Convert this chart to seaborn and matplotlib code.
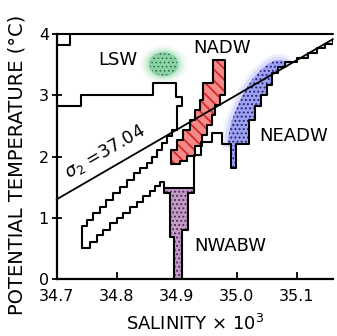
import matplotlib
matplotlib.use("Agg")
import matplotlib.pyplot as plt
from matplotlib.patches import Ellipse
import seaborn as sns

# axis ticks
sal_ticks = [34.7, 34.8, 34.9, 35.0, 35.1]
sal_tick_labels = ["34.7", "34.8", "34.9", "35.0", "35.1"]
temp_ticks = [0, 1, 2, 3, 4]

# sigma2 = 37.04 isopycnal
sigma_sal = [34.70, 35.16]
sigma_temp = [1.30, 3.92]

# top of the envelope and the little box at top left
top_sal = [34.700, 35.160]
top_temp = [4.00, 4.00]
box_sal = [34.700, 34.722, 34.722]
box_temp = [3.83, 3.83, 4.00]

# LSW shelf
shelf_sal = [34.700, 34.740, 34.740, 34.861, 34.861, 34.898, 34.898, 34.908, 34.908, 34.900, 34.900]
shelf_temp = [2.82, 2.82, 3.00, 3.00, 3.20, 3.20, 2.98, 2.98, 2.82, 2.82, 2.43]

# cold diagonal band, upper and lower edges (step corners)
band_top_sal = [34.900, 34.892, 34.883, 34.875, 34.867, 34.858, 34.850, 34.839, 34.828,
                34.817, 34.806, 34.794, 34.783, 34.772, 34.761, 34.750, 34.742, 34.742]
band_top_temp = [2.43, 2.33, 2.22, 2.11, 2.00, 1.89, 1.81, 1.73, 1.62,
                 1.51, 1.40, 1.29, 1.18, 1.07, 0.96, 0.86, 0.75, 0.50]
band_low_sal = [34.742, 34.756, 34.767, 34.778, 34.789, 34.800, 34.811, 34.822,
                34.833, 34.844, 34.856, 34.864, 34.872, 34.878, 34.878]
band_low_temp = [0.50, 0.61, 0.72, 0.80, 0.91, 0.99, 1.07, 1.18,
                 1.26, 1.35, 1.44, 1.52, 1.59, 1.59, 1.49]

# steps between NWABW and NEADW
mid_sal = [34.928, 34.928, 34.940, 34.940, 34.958, 34.958, 34.975, 34.975, 34.985]
mid_temp = [1.49, 2.02, 2.02, 2.24, 2.24, 2.38, 2.38, 2.20, 2.20]

# steps above NEADW up to the top right
upper_sal = [35.081, 35.100, 35.118, 35.133, 35.147, 35.160]
upper_temp = [3.55, 3.62, 3.70, 3.77, 3.84, 3.92]

# water masses
nwabw_sal = [34.878, 34.928, 34.928, 34.919, 34.919, 34.909, 34.909, 34.896,
             34.896, 34.889, 34.889, 34.878, 34.878]
nwabw_temp = [1.49, 1.49, 1.40, 1.40, 0.80, 0.80, 0.00, 0.00,
              0.69, 0.69, 1.40, 1.40, 1.49]

nadw_sal = [34.961, 34.981, 34.981, 34.972, 34.972, 34.964, 34.964, 34.958, 34.958,
            34.950, 34.950, 34.942, 34.942, 34.931, 34.931, 34.917, 34.917, 34.905,
            34.905, 34.890, 34.890, 34.900, 34.900, 34.911, 34.911, 34.922, 34.922,
            34.931, 34.931, 34.939, 34.939, 34.944, 34.944, 34.961, 34.961]
nadw_temp = [3.58, 3.58, 3.00, 3.00, 2.84, 2.84, 2.68, 2.68, 2.52,
             2.52, 2.35, 2.35, 2.18, 2.18, 2.01, 2.01, 1.93, 1.93,
             1.88, 1.88, 2.10, 2.10, 2.27, 2.27, 2.43, 2.43, 2.60,
             2.60, 2.76, 2.76, 2.92, 2.92, 3.20, 3.20, 3.58]

neadw_sal = [34.985, 34.991, 34.991, 34.999, 34.999, 35.020, 35.020, 35.030, 35.030,
             35.040, 35.040, 35.050, 35.050, 35.059, 35.059, 35.068, 35.068, 35.081,
             35.081, 35.074, 35.062, 35.050, 35.039, 35.027, 35.017, 35.009, 35.003,
             34.997, 34.992, 34.988, 34.986, 34.985]
neadw_temp = [2.20, 2.20, 1.81, 1.81, 2.20, 2.20, 2.60, 2.60, 2.82,
              2.82, 3.01, 3.01, 3.17, 3.17, 3.36, 3.36, 3.47, 3.47,
              3.55, 3.58, 3.57, 3.50, 3.41, 3.28, 3.14, 3.00, 2.87,
              2.73, 2.60, 2.45, 2.33, 2.20]
neadw_edge = 19  # only the stepped side has a black outline, the rest is soft

lsw_center = (34.878, 3.51)

labels = {"LSW": (34.802, 3.58), "NADW": (34.975, 3.77),
          "NEADW": (35.094, 2.33), "NWABW": (34.989, 0.53)}

sns.set_theme(style="ticks")
plt.rcParams["font.family"] = ["DejaVu Sans"]
plt.rcParams["text.color"] = "black"
plt.rcParams["axes.labelcolor"] = "black"
plt.rcParams["hatch.linewidth"] = 0.9

fig = plt.figure(figsize=(3.37, 3.36), dpi=100)
ax = fig.add_axes([0.168, 0.170, 0.820, 0.728])

lw = 1.5


def outline(x, y, steps=False, **kw):
    if steps:
        kw["drawstyle"] = "steps-post"
    sns.lineplot(x=x, y=y, sort=False, estimator=None, color="black",
                 linewidth=lw, ax=ax, zorder=4, **kw)


def region(x, y, face, hatch, hatch_color, hatch_lw):
    ax.fill(x, y, facecolor=face, edgecolor="none", zorder=2)
    with plt.rc_context({"hatch.linewidth": hatch_lw}):
        ax.fill(x, y, facecolor="none", edgecolor=hatch_color, hatch=hatch,
                linewidth=0, zorder=2.5)


# LSW blob: soft green halo with a stippled core
for scale, alpha in [(1.55, 0.12), (1.35, 0.2), (1.18, 0.35)]:
    ax.add_patch(Ellipse(lsw_center, 0.05 * scale, 0.40 * scale,
                         facecolor="#9ddcb4", edgecolor="none", alpha=alpha, zorder=2))
ax.add_patch(Ellipse(lsw_center, 0.05, 0.40, facecolor="#8bd3a6", edgecolor="none", zorder=2))
with plt.rc_context({"hatch.linewidth": 0.7}):
    ax.add_patch(Ellipse(lsw_center, 0.046, 0.37, facecolor="none", edgecolor="#35704b",
                         hatch="....", linewidth=0, zorder=2.5))

# NEADW soft left edge
for width, alpha in [(9, 0.18), (5, 0.35)]:
    sns.lineplot(x=neadw_sal[neadw_edge - 1:], y=neadw_temp[neadw_edge - 1:], sort=False,
                 estimator=None, color="#b4b6f8", linewidth=width, alpha=alpha, ax=ax,
                 zorder=1.9, solid_capstyle="round")

region(neadw_sal, neadw_temp, "#9ea2f2", "....", "#23236e", 0.9)
region(nwabw_sal, nwabw_temp, "#c39ac8", "....", "#4e2f52", 0.9)
region(nadw_sal, nadw_temp, "#f58a8a", "\\\\\\", "#d02a2a", 1.3)

# black envelope
outline(top_sal, top_temp, clip_on=False)
outline(box_sal, box_temp)
outline(shelf_sal, shelf_temp)
outline(band_top_sal, band_top_temp, steps=True)
outline(band_low_sal, band_low_temp, steps=True)
outline(mid_sal, mid_temp)
outline(upper_sal, upper_temp, steps=True)
outline(nwabw_sal, nwabw_temp)
outline(nadw_sal, nadw_temp)
outline(neadw_sal[:neadw_edge], neadw_temp[:neadw_edge])

# isopycnal
sns.lineplot(x=sigma_sal, y=sigma_temp, sort=False, estimator=None, color="black",
             linewidth=1.3, ax=ax, zorder=5, clip_on=False)
ax.text(34.788, 1.93, r"$\sigma_2$ =37.04", rotation=30, rotation_mode="anchor",
        ha="center", va="bottom", fontsize=12.5, color="black", zorder=6)

for name, (sx, ty) in labels.items():
    ax.text(sx, ty, name, ha="center", va="center", fontsize=13, color="black", zorder=6)

ax.set_xlim(34.7, 35.16)
ax.set_ylim(0, 4)
ax.set_xticks(sal_ticks, sal_tick_labels)
ax.set_yticks(temp_ticks)
ax.tick_params(axis="x", direction="in", length=5, width=1.3, pad=7, labelsize=11.5, colors="black")
ax.tick_params(axis="y", direction="inout", length=7, width=1.3, pad=2, labelsize=11.5, colors="black")
sns.despine(ax=ax)
for side in ["left", "bottom"]:
    ax.spines[side].set_linewidth(1.6)
    ax.spines[side].set_color("black")

ax.set_xlabel("SALINITY × 10$^3$", fontsize=13, color="black")
ax.set_ylabel("POTENTIAL TEMPERATURE (°C)", fontsize=14, color="black")
ax.xaxis.set_label_coords(0.5, -0.145)
ax.yaxis.set_label_coords(-0.11, 0.465)

fig.savefig("out.png", dpi=100)
